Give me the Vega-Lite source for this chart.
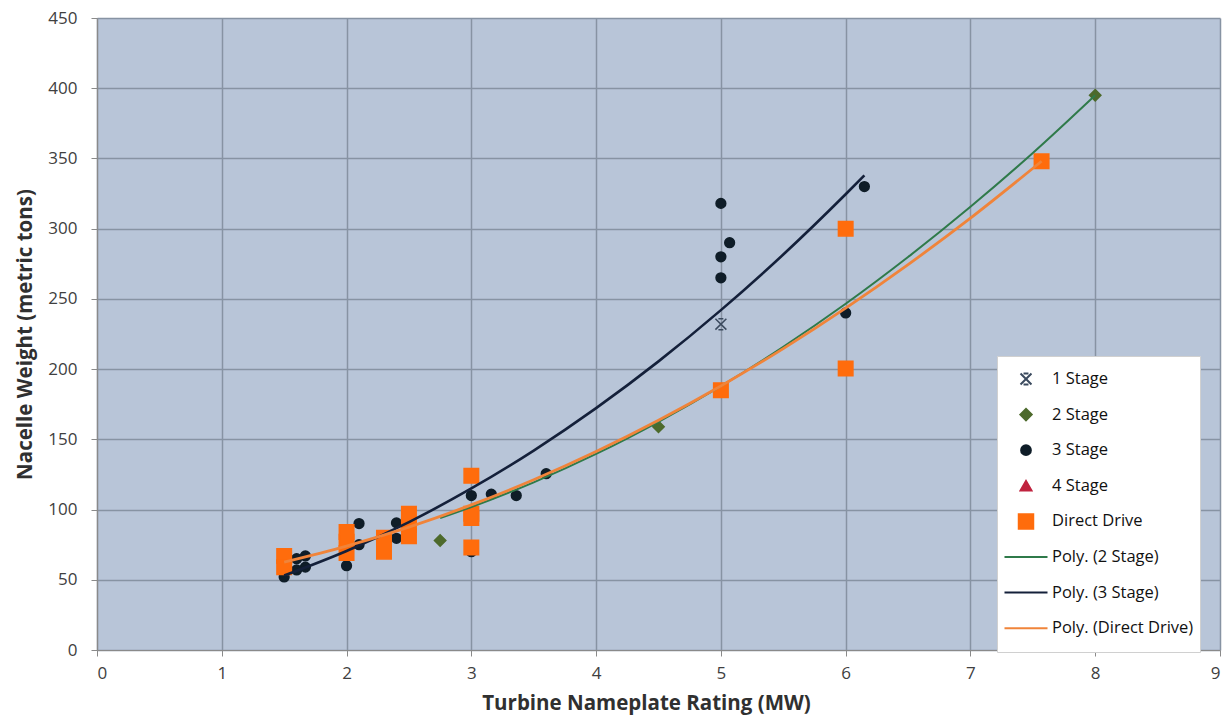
{
  "$schema": "https://vega.github.io/schema/vega-lite/v6.json",
  "width": 1123,
  "height": 632,
  "autosize": {"type": "none"},
  "padding": {"left": 97, "top": 18, "right": 2, "bottom": 75},
  "background": "#ffffff",
  "datasets": {
    "pts": [
      {"series": "1 Stage", "mw": 5.0, "t": 232},
      {"series": "2 Stage", "mw": 2.75, "t": 78},
      {"series": "2 Stage", "mw": 4.5, "t": 159},
      {"series": "2 Stage", "mw": 8.0, "t": 395},
      {"series": "3 Stage", "mw": 1.5, "t": 52},
      {"series": "3 Stage", "mw": 1.6, "t": 57},
      {"series": "3 Stage", "mw": 1.6, "t": 65},
      {"series": "3 Stage", "mw": 1.67, "t": 59},
      {"series": "3 Stage", "mw": 1.67, "t": 67},
      {"series": "3 Stage", "mw": 2.0, "t": 60},
      {"series": "3 Stage", "mw": 2.1, "t": 75},
      {"series": "3 Stage", "mw": 2.1, "t": 90},
      {"series": "3 Stage", "mw": 2.4, "t": 79.5},
      {"series": "3 Stage", "mw": 2.4, "t": 90.5},
      {"series": "3 Stage", "mw": 3.0, "t": 70},
      {"series": "3 Stage", "mw": 3.0, "t": 110},
      {"series": "3 Stage", "mw": 3.16, "t": 111},
      {"series": "3 Stage", "mw": 3.36, "t": 110},
      {"series": "3 Stage", "mw": 3.6, "t": 125.5},
      {"series": "3 Stage", "mw": 5.0, "t": 318},
      {"series": "3 Stage", "mw": 5.07, "t": 290},
      {"series": "3 Stage", "mw": 5.0, "t": 280},
      {"series": "3 Stage", "mw": 5.0, "t": 265},
      {"series": "3 Stage", "mw": 6.0, "t": 240},
      {"series": "3 Stage", "mw": 6.15, "t": 330},
      {"series": "Direct Drive", "mw": 1.5, "t": 67},
      {"series": "Direct Drive", "mw": 1.5, "t": 59},
      {"series": "Direct Drive", "mw": 2.0, "t": 84},
      {"series": "Direct Drive", "mw": 2.0, "t": 77},
      {"series": "Direct Drive", "mw": 2.0, "t": 69},
      {"series": "Direct Drive", "mw": 2.3, "t": 80},
      {"series": "Direct Drive", "mw": 2.3, "t": 70},
      {"series": "Direct Drive", "mw": 2.5, "t": 97},
      {"series": "Direct Drive", "mw": 2.5, "t": 89},
      {"series": "Direct Drive", "mw": 2.5, "t": 81},
      {"series": "Direct Drive", "mw": 3.0, "t": 124},
      {"series": "Direct Drive", "mw": 3.0, "t": 97},
      {"series": "Direct Drive", "mw": 3.0, "t": 94},
      {"series": "Direct Drive", "mw": 3.0, "t": 73},
      {"series": "Direct Drive", "mw": 5.0, "t": 185},
      {"series": "Direct Drive", "mw": 6.0, "t": 300},
      {"series": "Direct Drive", "mw": 6.0, "t": 200.5},
      {"series": "Direct Drive", "mw": 7.57, "t": 348}
    ],
    "fits": [
      {"series": "Poly. (2 Stage)", "mw": 2.75, "t": 93.9},
      {"series": "Poly. (2 Stage)", "mw": 3.0, "t": 101.8},
      {"series": "Poly. (2 Stage)", "mw": 3.5, "t": 119.4},
      {"series": "Poly. (2 Stage)", "mw": 4.0, "t": 139.6},
      {"series": "Poly. (2 Stage)", "mw": 4.5, "t": 162.5},
      {"series": "Poly. (2 Stage)", "mw": 5.0, "t": 187.9},
      {"series": "Poly. (2 Stage)", "mw": 5.5, "t": 215.9},
      {"series": "Poly. (2 Stage)", "mw": 6.0, "t": 246.5},
      {"series": "Poly. (2 Stage)", "mw": 6.5, "t": 279.8},
      {"series": "Poly. (2 Stage)", "mw": 7.0, "t": 315.6},
      {"series": "Poly. (2 Stage)", "mw": 7.5, "t": 353.9},
      {"series": "Poly. (2 Stage)", "mw": 8.0, "t": 395.0},
      {"series": "Poly. (3 Stage)", "mw": 1.5, "t": 53.0},
      {"series": "Poly. (3 Stage)", "mw": 2.0, "t": 70.5},
      {"series": "Poly. (3 Stage)", "mw": 2.5, "t": 91.1},
      {"series": "Poly. (3 Stage)", "mw": 3.0, "t": 115.0},
      {"series": "Poly. (3 Stage)", "mw": 3.5, "t": 142.0},
      {"series": "Poly. (3 Stage)", "mw": 4.0, "t": 172.2},
      {"series": "Poly. (3 Stage)", "mw": 4.5, "t": 205.5},
      {"series": "Poly. (3 Stage)", "mw": 5.0, "t": 242.0},
      {"series": "Poly. (3 Stage)", "mw": 5.5, "t": 281.6},
      {"series": "Poly. (3 Stage)", "mw": 6.0, "t": 324.5},
      {"series": "Poly. (3 Stage)", "mw": 6.15, "t": 337.9},
      {"series": "Poly. (Direct Drive)", "mw": 1.5, "t": 62.6},
      {"series": "Poly. (Direct Drive)", "mw": 2.0, "t": 74.0},
      {"series": "Poly. (Direct Drive)", "mw": 2.5, "t": 87.5},
      {"series": "Poly. (Direct Drive)", "mw": 3.0, "t": 103.3},
      {"series": "Poly. (Direct Drive)", "mw": 3.5, "t": 121.2},
      {"series": "Poly. (Direct Drive)", "mw": 4.0, "t": 141.3},
      {"series": "Poly. (Direct Drive)", "mw": 4.5, "t": 163.6},
      {"series": "Poly. (Direct Drive)", "mw": 5.0, "t": 188.0},
      {"series": "Poly. (Direct Drive)", "mw": 5.5, "t": 214.6},
      {"series": "Poly. (Direct Drive)", "mw": 6.0, "t": 243.4},
      {"series": "Poly. (Direct Drive)", "mw": 6.5, "t": 274.4},
      {"series": "Poly. (Direct Drive)", "mw": 7.0, "t": 307.5},
      {"series": "Poly. (Direct Drive)", "mw": 7.57, "t": 348.0}
    ]
  },
  "encoding": {
    "x": {
      "field": "mw", "type": "quantitative",
      "title": "Turbine Nameplate Rating (MW)",
      "scale": {"domain": [0, 9], "nice": false, "zero": false},
      "axis": {"values": [0, 1, 2, 3, 4, 5, 6, 7, 8, 9], "labelPadding": 9, "titlePadding": 12, "titleX": 549}
    },
    "y": {
      "field": "t", "type": "quantitative",
      "title": "Nacelle Weight (metric tons)",
      "scale": {"domain": [0, 450], "nice": false},
      "axis": {"values": [0, 50, 100, 150, 200, 250, 300, 350, 400, 450], "labelPadding": 14, "titlePadding": 12}
    }
  },
  "layer": [
    {
      "data": {"name": "pts"},
      "mark": {"type": "point", "filled": true, "strokeWidth": 1.5, "opacity": 1},
      "encoding": {
        "fill": {
          "field": "series", "type": "nominal", "title": null,
          "scale": {
            "domain": ["1 Stage", "2 Stage", "3 Stage", "4 Stage", "Direct Drive", "Poly. (2 Stage)", "Poly. (3 Stage)", "Poly. (Direct Drive)"],
            "range": ["#3b4a5e", "#4d6a2c", "#0f1d28", "#c0233f", "#ff6c0c", "#2f7a4a", "#14203a", "#f0843a"]
          },
          "legend": {"orient": "none", "legendX": 900, "legendY": 338, "padding": 6, "fillColor": "#ffffff", "strokeColor": "#d0d0d0", "clipHeight": 34, "rowPadding": 1.6, "labelOffset": 3, "symbolStrokeWidth": 2, "labelFont": "Open Sans", "labelFontSize": 16.5, "labelColor": "#111111"}
        },
        "stroke": {
          "field": "series", "type": "nominal", "title": null,
          "scale": {
            "domain": ["1 Stage", "2 Stage", "3 Stage", "4 Stage", "Direct Drive", "Poly. (2 Stage)", "Poly. (3 Stage)", "Poly. (Direct Drive)"],
            "range": ["#3b4a5e", "#4d6a2c", "#0f1d28", "#c0233f", "#ff6c0c", "#2f7a4a", "#14203a", "#f0843a"]
          },
          "legend": {"orient": "none", "legendX": 900, "legendY": 338, "padding": 6, "fillColor": "#ffffff", "strokeColor": "#d0d0d0", "clipHeight": 34, "rowPadding": 1.6, "labelOffset": 3, "symbolStrokeWidth": 2, "labelFont": "Open Sans", "labelFontSize": 16.5, "labelColor": "#111111"}
        },
        "shape": {
          "field": "series", "type": "nominal", "title": null,
          "scale": {
            "domain": ["1 Stage", "2 Stage", "3 Stage", "4 Stage", "Direct Drive", "Poly. (2 Stage)", "Poly. (3 Stage)", "Poly. (Direct Drive)"],
            "range": ["M-1,-1L1,1M1,-1L-1,1M-0.45,-1L0.45,-1M-0.45,1L0.45,1", "diamond", "circle", "triangle-up", "square", "stroke", "stroke", "stroke"]
          },
          "legend": {"orient": "none", "legendX": 900, "legendY": 338, "padding": 6, "fillColor": "#ffffff", "strokeColor": "#d0d0d0", "clipHeight": 34, "rowPadding": 1.6, "labelOffset": 3, "symbolStrokeWidth": 2, "labelFont": "Open Sans", "labelFontSize": 16.5, "labelColor": "#111111"}
        },
        "size": {
          "field": "series", "type": "nominal", "title": null,
          "scale": {
            "type": "ordinal",
            "domain": ["1 Stage", "2 Stage", "3 Stage", "4 Stage", "Direct Drive", "Poly. (2 Stage)", "Poly. (3 Stage)", "Poly. (Direct Drive)"],
            "range": [120, 130, 95, 120, 210, 1850, 1850, 1850]
          },
          "legend": {"orient": "none", "legendX": 900, "legendY": 338, "padding": 6, "fillColor": "#ffffff", "strokeColor": "#d0d0d0", "clipHeight": 34, "rowPadding": 1.6, "labelOffset": 3, "symbolStrokeWidth": 2, "labelFont": "Open Sans", "labelFontSize": 16.5, "labelColor": "#111111"}
        }
      }
    },
    {
      "data": {"name": "fits"},
      "transform": [{"filter": "datum.series === 'Poly. (2 Stage)'"}],
      "mark": {"type": "line", "strokeWidth": 2, "interpolate": "monotone"},
      "encoding": {
        "stroke": {"field": "series", "type": "nominal", "title": null}
      }
    },
    {
      "data": {"name": "fits"},
      "transform": [{"filter": "datum.series === 'Poly. (3 Stage)'"}],
      "mark": {"type": "line", "strokeWidth": 2.6, "interpolate": "monotone"},
      "encoding": {
        "stroke": {"field": "series", "type": "nominal", "title": null}
      }
    },
    {
      "data": {"name": "fits"},
      "transform": [{"filter": "datum.series === 'Poly. (Direct Drive)'"}],
      "mark": {"type": "line", "strokeWidth": 2.8, "interpolate": "monotone"},
      "encoding": {
        "stroke": {"field": "series", "type": "nominal", "title": null}
      }
    }
  ],
  "config": {
    "view": {"fill": "#b8c5d8", "stroke": null},
    "axis": {
      "grid": true,
      "gridColor": "#8793a3",
      "gridWidth": 1.5,
      "domainColor": "#8a8a8a",
      "domainWidth": 1.2,
      "tickColor": "#8a8a8a",
      "tickSize": 6,
      "labelFont": "Open Sans",
      "labelFontSize": 17,
      "labelColor": "#404040",
      "titleFont": "Open Sans",
      "titleFontSize": 20.5,
      "titleFontWeight": "bold",
      "titleColor": "#303030"
    }
  }
}
